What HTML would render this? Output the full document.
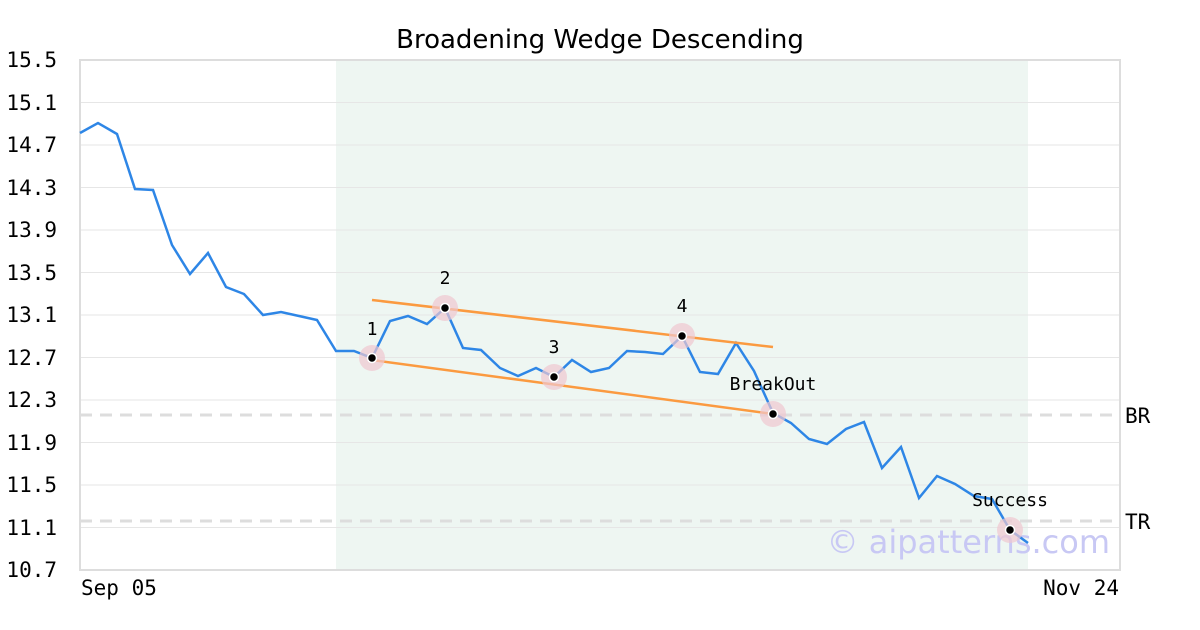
<!DOCTYPE html>
<html><head><meta charset="utf-8"><style>body{margin:0;background:#fff}svg{display:block}text{font-family:"DejaVu Sans Mono","Liberation Mono",monospace}</style></head>
<body>
<svg width="1200" height="630" viewBox="0 0 1200 630" xmlns="http://www.w3.org/2000/svg">
<rect width="1200" height="630" fill="#fff"/>
<rect x="336" y="60" width="692" height="510" fill="#eef6f2"/>
<g stroke="#e6e6e6" stroke-width="1">
<line x1="80" x2="1120" y1="102.5" y2="102.5"/><line x1="80" x2="1120" y1="145" y2="145"/><line x1="80" x2="1120" y1="187.5" y2="187.5"/><line x1="80" x2="1120" y1="230" y2="230"/><line x1="80" x2="1120" y1="272.5" y2="272.5"/><line x1="80" x2="1120" y1="315" y2="315"/><line x1="80" x2="1120" y1="357.5" y2="357.5"/><line x1="80" x2="1120" y1="400" y2="400"/><line x1="80" x2="1120" y1="442.5" y2="442.5"/><line x1="80" x2="1120" y1="485" y2="485"/><line x1="80" x2="1120" y1="527.5" y2="527.5"/>
</g>
<g stroke="#dddddd" stroke-width="3" stroke-dasharray="12,8">
<line x1="80" x2="1120" y1="415" y2="415"/><line x1="80" x2="1120" y1="521" y2="521"/>
</g>
<rect x="80" y="60" width="1040" height="510" fill="none" stroke="#dddddd" stroke-width="2"/>
<text x="600" y="48" text-anchor="middle" font-size="26" style="font-family:'DejaVu Sans','Liberation Sans',sans-serif">Broadening Wedge Descending</text>
<g font-size="21" text-anchor="end" fill="#000">
<text x="57" y="67">15.5</text><text x="57" y="110">15.1</text><text x="57" y="152">14.7</text><text x="57" y="195">14.3</text><text x="57" y="237">13.9</text><text x="57" y="280">13.5</text><text x="57" y="322">13.1</text><text x="57" y="365">12.7</text><text x="57" y="407">12.3</text><text x="57" y="450">11.9</text><text x="57" y="492">11.5</text><text x="57" y="535">11.1</text><text x="57" y="577">10.7</text>
</g>
<text x="81" y="595" font-size="21">Sep 05</text>
<text x="1119" y="595" font-size="21" text-anchor="end">Nov 24</text>
<text x="1125" y="423" font-size="21">BR</text>
<text x="1125" y="529" font-size="21">TR</text>
<text x="1110" y="553" font-size="32" text-anchor="end" fill="#c8c8f4" style="font-family:'DejaVu Sans',sans-serif">© aipatterns.com</text>
<polyline fill="none" stroke="#2e86e6" stroke-width="2.5" points="80,133 98,123 117,134 135,189 153,190 172,245 190,274 208,253 226,287 244,294 263,315 281,312 299,316 317,320 336,351 354,351 372,358 390,321 408,316 427,324 445,308 463,348 481,350 500,368 518,376 536,368 554,377 572,360 591,372 609,368 627,351 645,352 663,354 682,336 700,372 718,374 736,343 754,371 773,413 791,423 809,439 827,444 846,429 864,422 882,468 901,447 919,498 937,476 955,484 974,496 992,499 1010,530 1028,543"/>
<g stroke="#fb9a40" stroke-width="2.5">
<line x1="372" y1="300" x2="773" y2="347"/><line x1="372" y1="360" x2="773" y2="414"/>
</g>
<g fill="#f0c8d0" fill-opacity="0.7">
<circle cx="372" cy="358" r="13"/><circle cx="445" cy="308" r="13"/><circle cx="554" cy="377" r="13"/><circle cx="682" cy="336" r="13"/><circle cx="773" cy="414" r="13"/><circle cx="1010" cy="530" r="13"/>
</g>
<g fill="#000" stroke="#fff" stroke-width="1.5">
<circle cx="372" cy="358" r="4.5"/><circle cx="445" cy="308" r="4.5"/><circle cx="554" cy="377" r="4.5"/><circle cx="682" cy="336" r="4.5"/><circle cx="773" cy="414" r="4.5"/><circle cx="1010" cy="530" r="4.5"/>
</g>
<g font-size="18" text-anchor="middle">
<text x="372" y="335">1</text><text x="445" y="284">2</text><text x="554" y="353">3</text><text x="682" y="312">4</text><text x="773" y="390">BreakOut</text><text x="1010" y="506">Success</text>
</g>
</svg>
</body></html>
